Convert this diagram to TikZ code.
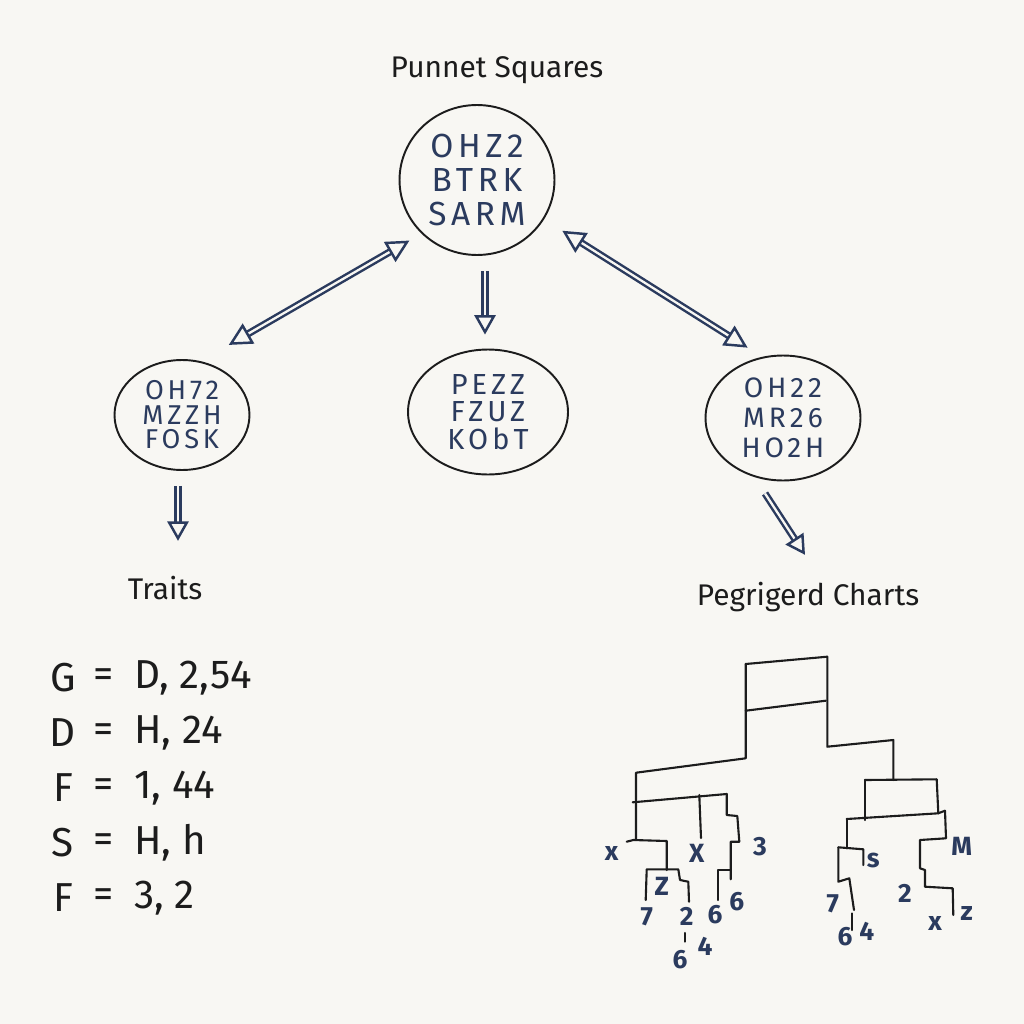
\documentclass[tikz,border=0pt]{standalone}
\usepackage{fontspec}
\setmainfont{Fira Sans}
\newfontfamily\blobfont[LetterSpace=14]{Fira Sans}
\usetikzlibrary{shapes.geometric,arrows.meta}
\definecolor{paper}{HTML}{F8F7F3}
\definecolor{ink}{HTML}{2B3B5E}
\definecolor{pen}{HTML}{1C1C1C}

\begin{document}
\begin{tikzpicture}[x=0.02cm,y=-0.02cm,
  blob/.style={ellipse, draw=pen, line width=1.1pt, inner sep=0pt, text=ink, align=center},
  heading/.style={text=pen, inner sep=0pt, font=\fontsize{17}{20}\selectfont},
  twoway/.style={draw=ink, line width=1.4pt, double=paper, double distance=1.3pt,
    {Triangle[open,length=13pt,width=13pt]}-{Triangle[open,length=13pt,width=13pt]}},
  oneway/.style={draw=ink, line width=1.4pt, double=paper, double distance=1.3pt,
    -{Triangle[open,length=11pt,width=12pt]}},
  tree/.style={draw=pen, line width=1.2pt, line cap=round, line join=round},
  kid/.style={text=ink, inner sep=0pt, font=\bfseries\fontsize{15}{15}\selectfont},
  trait/.style={text=pen, inner sep=0pt, font=\fontsize{23}{23}\selectfont}]
\fill[paper] (0,0) rectangle (1024,1024);
\useasboundingbox (0,0) rectangle (1024,1024);

% the squares
\node[heading] (title) at (497,70) {Punnet Squares};
\node[blob, minimum width=3.1cm, minimum height=3cm,
  font=\blobfont\fontsize{19}{19.5}\selectfont] (top) at (477,180) {OHZ2\\BTRK\\SARM};
\node[blob, minimum width=2.7cm, minimum height=2.2cm,
  font=\blobfont\fontsize{15.5}{14}\selectfont] (left) at (182,415) {OH72\\MZZH\\FOSK};
\node[blob, minimum width=3.2cm, minimum height=2.5cm,
  font=\blobfont\fontsize{16.5}{15.5}\selectfont] (mid) at (488,412) {PEZZ\\FZUZ\\KObT};
\node[blob, minimum width=3.1cm, minimum height=2.5cm,
  font=\blobfont\fontsize{16}{17}\selectfont] (right) at (783,418) {OH22\\MR26\\HO2H};

\node[heading] (traits) at (165,588) {Traits};
\node[heading] (charts) at (808,597) {Pegrigerd Charts};

% arrows
\draw[twoway] ([shift={(-13,6)}]top.225) -- ([shift={(-1,-30)}]left.40);
\draw[twoway] ([shift={(26,1)}]top.-40) -- ([shift={(14,-21)}]right.135);
\draw[oneway] ([shift={(8,15)}]top.south) -- ([shift={(-3,-14)}]mid.north);
\draw[oneway] ([shift={(-4,15)}]left.south) -- ([shift={(13,-35)}]traits.north);
\draw[oneway] ([shift={(-18,12)}]right.south) -- ([shift={(-3,-27)}]charts.north);

% traits
\foreach \lhs/\rhs [count=\i, evaluate=\i as \y using 678+(\i-1)*55] in
  {G/{D, 2,54}, D/{H, 24}, F/{1, 44}, S/{H, h}, F/{3, 2}} {
  \node[trait] (lhs\i) at (63,\y) {\lhs};
  \node[trait] (eq\i) at (104,\y) {=};
  \node[trait, anchor=west] (rhs\i) at (134,\y) {\rhs};
}

% pedigree
\draw[tree] (745.7,664) -- (827.3,656.7);
\draw[tree] (745.7,710.7) -- (825.7,700.7);
\draw[tree] (745.7,664) -- (745.7,758.3) -- (636,772.7) -- (636,840);
\draw[tree] (827.3,656.7) -- (827.3,746.7) -- (893.3,740) -- (893.3,780);
\draw[tree] (632.7,802.3) -- (726.7,794);
\draw[tree] (699.3,795) -- (701,838);
\draw[tree] (726.7,794) -- (726.7,815) -- (737.3,816) -- (739.3,841.7) -- (730.7,841.7) -- (730.7,879.3);
\draw[tree] (730.7,870) -- (718.3,870) -- (718.3,900);
\draw[tree] (626.7,841.7) -- (633.3,840) -- (666.7,841) -- (666.7,870);
\draw[tree] (645.7,900) -- (646.7,869.3) -- (678.3,869.3) -- (680,880) -- (688.3,881.7) -- (689,901.7);
\draw[tree] (685,933) -- (685,941.7);
\draw[tree] (865,780) -- (936.7,779.3);
\draw[tree] (865,780) -- (865,820);
\draw[tree] (936.7,779.3) -- (938.3,813.3);
\draw[tree] (846.7,819) -- (938.3,813.3) -- (945,810.7) -- (946,838.3) -- (920,840) -- (920,868.3) -- (925,870) -- (925,886.7) -- (952.7,888.3) -- (953.3,915);
\draw[tree] (846.7,819) -- (846.7,848.3);
\draw[tree] (838.3,847.3) -- (863.3,849.3) -- (863.3,865);
\draw[tree] (838.3,847.3) -- (838.3,881.7) -- (849.3,878.3) -- (854,910);
\draw[tree] (851.7,913.3) -- (851.7,930);

\node[kid] (k1) at (611.7,853.3) {x};
\node[kid] (k2) at (696.7,853.3) {X};
\node[kid] (k3) at (760,846.7) {3};
\node[kid] (k4) at (661.7,886.7) {Z};
\node[kid] (k5) at (646.7,916.7) {7};
\node[kid] (k6) at (686.7,916.7) {2};
\node[kid] (k7) at (715,915) {6};
\node[kid] (k8) at (736.7,901.7) {6};
\node[kid] (k9) at (680,960) {6};
\node[kid] (k10) at (705,946.7) {4};
\node[kid] (k11) at (873.3,860) {s};
\node[kid] (k12) at (832.7,903.3) {7};
\node[kid] (k13) at (845,936.7) {6};
\node[kid] (k14) at (866.7,931.7) {4};
\node[kid] (k15) at (961.7,846.7) {M};
\node[kid] (k16) at (905,893.3) {2};
\node[kid] (k17) at (935,923.3) {x};
\node[kid] (k18) at (966.7,913.3) {z};
\end{tikzpicture}
\end{document}
